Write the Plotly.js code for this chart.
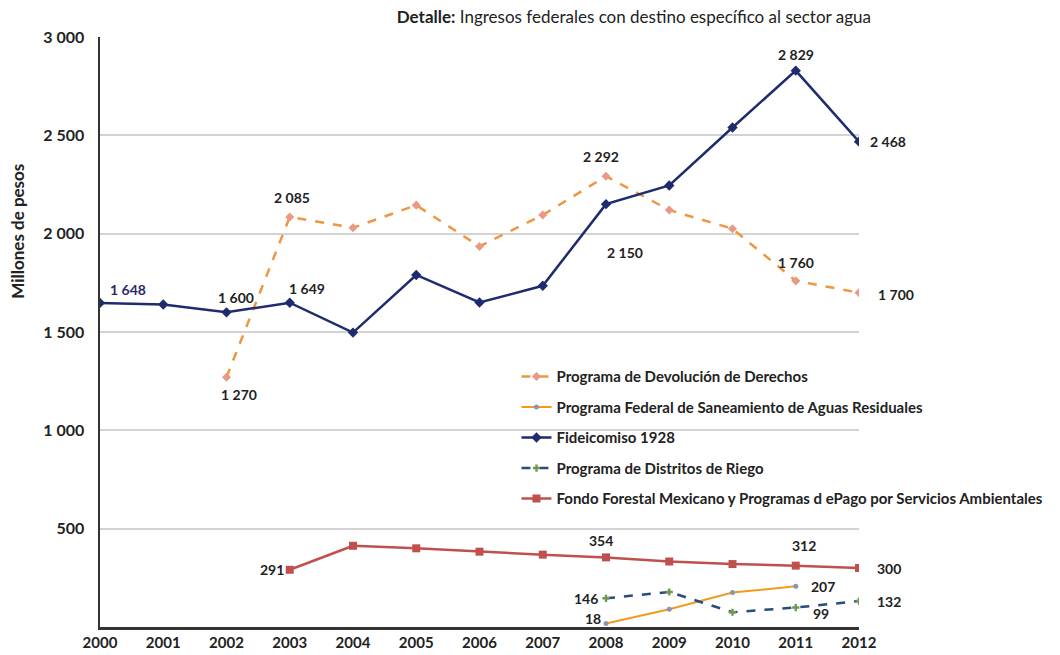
<!DOCTYPE html>
<html>
<head>
<meta charset="utf-8">
<script src="https://cdn.plot.ly/plotly-3.0.1.min.js"></script>
<style>html,body{margin:0;padding:0;background:#fff;}#chart{width:1060px;height:655px;}</style>
</head>
<body>
<div id="chart"></div>
<script>
const years = [2000,2001,2002,2003,2004,2005,2006,2007,2008,2009,2010,2011,2012];

const devolucionYears = [2002,2003,2004,2005,2006,2007,2008,2009,2010,2011,2012];
const devolucionValues = [1270,2085,2030,2145,1935,2095,2292,2120,2025,1760,1700];

const saneamientoYears = [2008,2009,2010,2011];
const saneamientoValues = [18,90,175,207];

const fideicomisoYears = [2000,2001,2002,2003,2004,2005,2006,2007,2008,2009,2010,2011,2012];
const fideicomisoValues = [1648,1640,1600,1649,1497,1790,1650,1735,2150,2245,2540,2829,2468];

const riegoYears = [2008,2009,2010,2011,2012];
const riegoValues = [146,178,75,99,132];

const fondoYears = [2003,2004,2005,2006,2007,2008,2009,2010,2011,2012];
const fondoValues = [291,413,400,383,368,354,333,320,312,300];

const seriesNames = [
  "Programa de Devolución de Derechos",
  "Programa Federal de Saneamiento de Aguas Residuales",
  "Fideicomiso 1928",
  "Programa de Distritos de Riego",
  "Fondo Forestal Mexicano y Programas d ePago por Servicios Ambientales"
];

const yTickVals = [500,1000,1500,2000,2500,3000];

function fmt(v){
  const s = String(Math.round(v));
  return s.length > 3 ? s.slice(0, s.length-3) + " " + s.slice(s.length-3) : s;
}

const FONT = "Lato, 'Open Sans', sans-serif";

const traces = [
  {x: devolucionYears, y: devolucionValues, name: seriesNames[0], legendgroup: "g1", mode: "lines+markers",
   line: {color: "#EE9640", width: 2.5, dash: "dash"},
   marker: {color: "#E89A86", symbol: "diamond", size: 7}},
  {x: saneamientoYears, y: saneamientoValues, name: seriesNames[1], legendgroup: "g2", mode: "lines+markers",
   line: {color: "#F39A1E", width: 2},
   marker: {color: "#8A95B5", symbol: "circle", size: 5}},
  {x: fideicomisoYears, y: fideicomisoValues, name: seriesNames[2], legendgroup: "g3", mode: "lines+markers",
   line: {color: "#1E2B6E", width: 2.5},
   marker: {color: "#1E2B6E", symbol: "diamond", size: 8}},
  {x: riegoYears, y: riegoValues, name: seriesNames[3], legendgroup: "g4", mode: "lines+markers",
   line: {color: "#284C7E", width: 2.5, dash: "dash"},
   marker: {color: "#6E9A50", symbol: "cross", size: 6}},
  {x: fondoYears, y: fondoValues, name: seriesNames[4], legendgroup: "g5", mode: "lines+markers",
   line: {color: "#C0504D", width: 2.5},
   marker: {color: "#C0504D", symbol: "square", size: 8}}
];

// label placements: [seriesYears, seriesValues, year, xshift, yshift, color]
const labelSpec = [
  [fideicomisoYears, fideicomisoValues, 2000, 28, 13, "#2A2A6A"],
  [fideicomisoYears, fideicomisoValues, 2002, 9, 15, "#222"],
  [fideicomisoYears, fideicomisoValues, 2003, 17, 14, "#222"],
  [fideicomisoYears, fideicomisoValues, 2008, 19, -48, "#222"],
  [fideicomisoYears, fideicomisoValues, 2011, 0, 16, "#222"],
  [fideicomisoYears, fideicomisoValues, 2012, 29, 0, "#222"],
  [devolucionYears, devolucionValues, 2002, 12, -17, "#222"],
  [devolucionYears, devolucionValues, 2003, 2, 19, "#222"],
  [devolucionYears, devolucionValues, 2008, -5, 20, "#222"],
  [devolucionYears, devolucionValues, 2011, 0, 18, "#222"],
  [devolucionYears, devolucionValues, 2012, 37, -2, "#222"],
  [fondoYears, fondoValues, 2003, -18, 0, "#222"],
  [fondoYears, fondoValues, 2008, -5, 17, "#222"],
  [fondoYears, fondoValues, 2011, 8, 20, "#222"],
  [fondoYears, fondoValues, 2012, 30, 0, "#222"],
  [saneamientoYears, saneamientoValues, 2008, -13, 5, "#222"],
  [saneamientoYears, saneamientoValues, 2011, 27, 0, "#222"],
  [riegoYears, riegoValues, 2008, -20, 0, "#222"],
  [riegoYears, riegoValues, 2011, 25, -6, "#222"],
  [riegoYears, riegoValues, 2012, 30, 0, "#222"]
];

const annotations = labelSpec.map(([xs, ys, yr, dx, dy, col]) => {
  const v = ys[xs.indexOf(yr)];
  return {x: yr, y: v, xref: "x", yref: "y", text: "<b>" + fmt(v) + "</b>",
    showarrow: false, xshift: dx, yshift: dy,
    font: {family: FONT, size: 14, color: col}};
});

annotations.push({
  text: "<b>Millones de pesos</b>", textangle: -90,
  xref: "paper", yref: "paper", x: -0.108, y: 0.67,
  xanchor: "center", yanchor: "middle", showarrow: false,
  font: {family: FONT, size: 17, color: "#222"}
});

const layout = {
  width: 1060, height: 655,
  margin: {l: 100, r: 200, t: 37, b: 28, pad: 0},
  paper_bgcolor: "#fff", plot_bgcolor: "#fff",
  font: {family: FONT, color: "#222"},
  title: {
    text: "<b>Detalle:</b> Ingresos federales con destino específico al sector agua",
    x: 0.598, xanchor: "center", xref: "container",
    y: 0.974, yanchor: "middle", yref: "container",
    font: {family: FONT, size: 17, color: "#222"}
  },
  xaxis: {
    range: [2000, 2012], tickvals: years, ticktext: years.map(String),
    showgrid: false, zeroline: false,
    showline: true, linecolor: "#333", linewidth: 3,
    ticks: "", tickfont: {family: FONT, size: 15, color: "#222", weight: "bold"},
    fixedrange: true
  },
  yaxis: {
    range: [0, 3000], tickvals: yTickVals, ticktext: yTickVals.map(fmt),
    showgrid: true, gridcolor: "#D3D3D3", gridwidth: 2,
    zeroline: false, showline: true, linecolor: "#333", linewidth: 2.5,
    ticks: "", ticklabelstandoff: 10,
    tickfont: {family: FONT, size: 16, color: "#222", weight: "bold"}
  },
  legend: {
    x: 0.548, xanchor: "left", y: 0.452, yanchor: "top",
    bgcolor: "rgba(255,255,255,0)", borderwidth: 0,
    font: {family: FONT, size: 15, color: "#222", weight: "bold"},
    traceorder: "grouped", tracegroupgap: 8, itemwidth: 30
  },
  showlegend: true,
  annotations: annotations
};

Plotly.newPlot("chart", traces, layout, {displayModeBar: false, staticPlot: true});
</script>
</body>
</html>
